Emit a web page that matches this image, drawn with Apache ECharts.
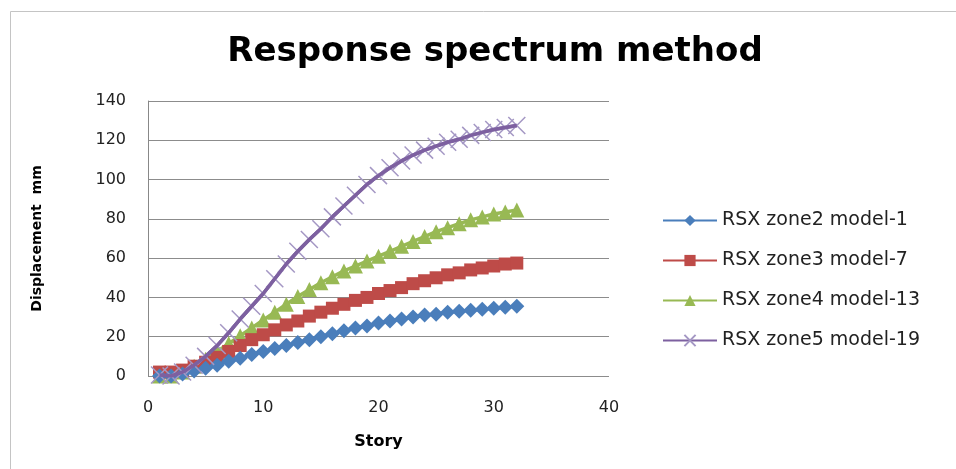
<!DOCTYPE html>
<html>
<head>
<meta charset="utf-8">
<script src="https://cdn.jsdelivr.net/npm/echarts@6/dist/echarts.min.js"></script>
<style>html,body{margin:0;padding:0;background:#fff;}#c{width:956px;height:469px;}</style>
</head>
<body>
<div id="c"></div>
<script>
const stories = [1,2,3,4,5,6,7,8,9,10,11,12,13,14,15,16,17,18,19,20,21,22,23,24,25,26,27,28,29,30,31,32];
const zone2 = [0,0,1,2.5,4,5.5,7.5,9,11,12.5,14,15.5,17,18.5,20,21.5,23,24.5,25.5,27,28,29,30,31,31.5,32.5,33,33.5,34,34.5,35,35.5];
const zone3 = [2,2,3,5,7,9.5,12.5,15.5,18.5,21,23.5,26,28,30.5,32.5,34.5,36.5,38.5,40,42,43.5,45,47,48.5,50,51.5,52.5,54,55,56,57,57.5];
const zone4 = [0,0,2,5,8.5,12.5,16.5,20.5,24.5,28.5,32.5,36.5,40.5,44,47.5,50.5,53.5,56,58.5,61,63.5,66,68.5,71,73.5,75.5,77.5,79.5,81,82.5,83.5,84.5];
const zone5 = [0.5,0,2,5.5,10,15.5,22,29,35.5,42,49.5,57,63.5,69.5,75,81,86.5,92,97.5,102,106,109.5,112.5,115,117,119,120.5,122.5,124,125.5,126.5,127.5];
const seriesNames = ['RSX zone2 model-1','RSX zone3 model-7','RSX zone4 model-13','RSX zone5 model-19'];
const titleText = 'Response spectrum method';
const xName = 'Story';
const yName = 'Displacement  mm';

const pair = arr => stories.map((s,i)=>[s,arr[i]]);
const chart = echarts.init(document.getElementById('c'));
const cross = 'path://M0,0L10,10M10,0L0,10';
chart.setOption({
  animation:false,
  backgroundColor:'#fff',
  graphic:[{type:'polyline',shape:{points:[[10.5,470],[10.5,11.5],[960,11.5]]},style:{stroke:'#c4c4c4',lineWidth:1,fill:null}}],
  title:{text:titleText,left:490,top:30,textAlign:'center',textStyle:{fontFamily:'DejaVu Sans',fontWeight:'bold',fontSize:34,color:'#000'}},
  grid:{left:148,right:347,top:101,bottom:93,containLabel:false},
  legend:{orient:'vertical',left:657,top:206,itemGap:21,itemWidth:54,itemHeight:14,
    textStyle:{fontFamily:'DejaVu Sans',fontSize:19,color:'#222'},
    data:seriesNames},
  xAxis:{type:'value',min:0,max:40,interval:10,name:xName,nameLocation:'middle',nameGap:58,
    nameTextStyle:{fontFamily:'DejaVu Sans',fontWeight:'bold',fontSize:16,color:'#000'},
    axisLine:{show:false},axisTick:{show:false},splitLine:{show:false},
    axisLabel:{fontFamily:'DejaVu Sans',fontSize:16,color:'#222',margin:24}},
  yAxis:{type:'value',min:0,max:140,interval:20,name:yName,nameLocation:'middle',nameGap:104,
    nameTextStyle:{fontFamily:'DejaVu Sans',fontWeight:'bold',fontSize:14,color:'#000'},
    axisLine:{show:true,lineStyle:{color:'#888',width:1}},axisTick:{show:false},
    splitLine:{lineStyle:{color:'#8c8c8c',width:1}},
    axisLabel:{fontFamily:'DejaVu Sans',fontSize:16,color:'#222',margin:22}},
  series:[
    {name:seriesNames[0],type:'line',data:pair(zone2),symbol:'diamond',symbolSize:15,
      lineStyle:{color:'#4a7ebb',width:3.5},itemStyle:{color:'#4a7ebb'},z:4},
    {name:seriesNames[1],type:'line',data:pair(zone3),symbol:'rect',symbolSize:13,
      lineStyle:{color:'#be4b48',width:3.5},itemStyle:{color:'#be4b48'},z:3},
    {name:seriesNames[2],type:'line',data:pair(zone4),symbol:'triangle',symbolSize:15,
      lineStyle:{color:'#98b954',width:3.5},itemStyle:{color:'#98b954'},z:2},
    {name:seriesNames[3],type:'line',data:pair(zone5),symbol:cross,symbolSize:17,
      lineStyle:{color:'#7d60a0',width:3.5},itemStyle:{color:'none',borderColor:'#a497c4',borderWidth:1.5},z:5},
    {name:'zone5-line',type:'line',data:pair(zone5),symbol:'none',silent:true,
      lineStyle:{color:'#7d60a0',width:3.5},z:6,tooltip:{show:false}}
  ]
});
</script>
</body>
</html>
